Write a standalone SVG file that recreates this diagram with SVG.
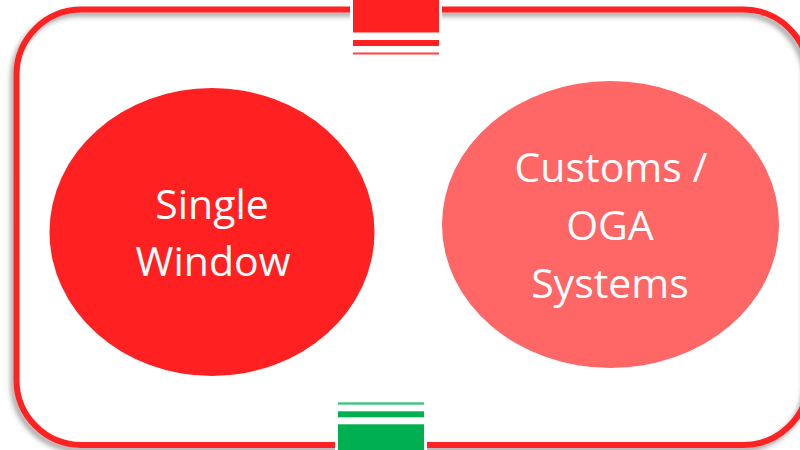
<svg xmlns="http://www.w3.org/2000/svg" width="800" height="450" viewBox="0 0 800 450">
  <defs>
    <filter id="shadow" x="-5%" y="-5%" width="110%" height="110%">
      <feGaussianBlur in="SourceAlpha" stdDeviation="2.5" result="b"/>
      <feOffset in="b" dx="-3" dy="4" result="o"/>
      <feFlood flood-color="#000" flood-opacity="0.35"/>
      <feComposite in2="o" operator="in" result="s"/>
      <feMerge>
        <feMergeNode in="s"/>
        <feMergeNode in="SourceGraphic"/>
      </feMerge>
    </filter>
  </defs>
  <style>
    .frame { fill: none; stroke: #FF2020; stroke-width: 6; }
    .label { font-family: "Open Sans", "Noto Sans", sans-serif; font-size: 41px; fill: #FFFFFF; text-anchor: middle; }
    .red { fill: #FF2020; }
    .green { fill: #00B050; }
    .gap { fill: #FFFFFF; }
  </style>
  <rect width="800" height="450" fill="#FFFFFF"/>
  <g id="frame" filter="url(#shadow)">
    <rect class="frame" x="16.5" y="9.5" width="792" height="435.5" rx="65" ry="65"/>
  </g>
  <g id="top-tab">
    <rect class="gap" x="350" y="0" width="92" height="30"/>
    <rect class="red" x="353" y="0" width="86" height="32.5"/>
    <rect class="red" x="353" y="40" width="86" height="6"/>
    <rect class="red" x="353" y="52.5" width="86" height="2" opacity="0.85"/>
  </g>
  <g id="bottom-tab">
    <rect class="gap" x="335" y="420" width="92" height="30"/>
    <rect class="green" x="338" y="402.3" width="86" height="2.4" opacity="0.75"/>
    <rect class="green" x="338" y="411.3" width="86" height="6"/>
    <rect class="green" x="338" y="424.3" width="86" height="26"/>
  </g>
  <g id="single-window">
    <ellipse cx="212" cy="232" rx="162.5" ry="144" fill="#FF2121"/>
    <text class="label" x="212" y="219">Single</text>
    <text class="label" x="213" y="276">Window</text>
  </g>
  <g id="customs-oga">
    <ellipse cx="610.5" cy="224.5" rx="168.5" ry="143.5" fill="#FF6666"/>
    <text class="label" x="611" y="182">Customs /</text>
    <text class="label" x="610" y="240">OGA</text>
    <text class="label" x="610" y="298">Systems</text>
  </g>
  <g id="connectors"/>
</svg>
